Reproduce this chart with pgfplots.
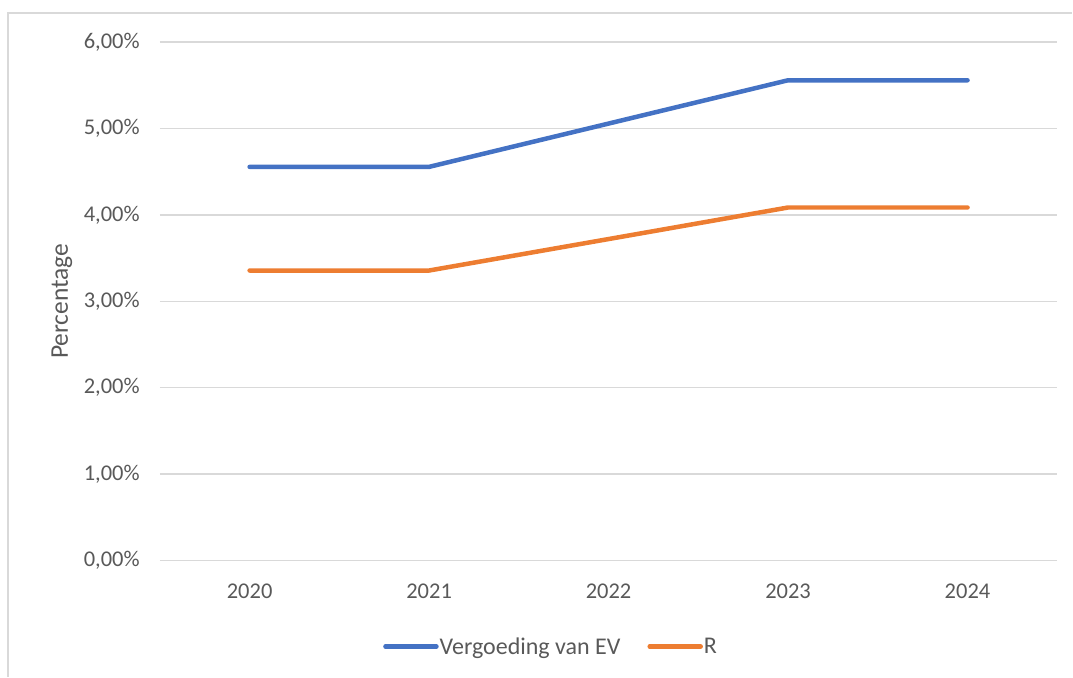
\documentclass[border=0pt]{standalone}
\usepackage{fontspec}
\setmainfont{Carlito}
\usepackage{pgfplots}
\pgfplotsset{compat=1.18}
\definecolor{evblue}{HTML}{4472C4}
\definecolor{rorange}{HTML}{ED7D31}
\definecolor{gridc}{HTML}{D9D9D9}
\definecolor{txt}{HTML}{595959}
\begin{document}
\begin{tikzpicture}
\begin{axis}[
  scale only axis,
  width=898bp, height=519bp,
  xmin=-0.5, xmax=4.5,
  ymin=0, ymax=6,
  xtick={0,1,2,3,4},
  xticklabels={2020,2021,2022,2023,2024},
  ytick={0,1,2,3,4,5,6},
  yticklabels={{0,00\%},{1,00\%},{2,00\%},{3,00\%},{4,00\%},{5,00\%},{6,00\%}},
  axis line style={draw=none},
  major tick length=0pt,
  ymajorgrids,
  grid style={gridc, line width=1.5bp},
  ticklabel style={text=txt, font=\fontsize{22.5bp}{26bp}\selectfont},
  yticklabel style={inner sep=0pt, xshift=-20bp},
  xticklabel style={inner sep=0pt, yshift=-23bp},
  ylabel={Percentage},
  ylabel style={at={(axis description cs:-0.1091,0.5)}, anchor=center, text=txt, font=\fontsize{25.5bp}{29bp}\selectfont},
  legend style={at={(axis description cs:0.4354,-0.1657)}, anchor=center, draw=none, fill=none,
    legend columns=2, font=\fontsize{24bp}{28bp}\selectfont, text=txt,
    nodes={inner sep=1bp},
    /tikz/every even column/.append style={column sep=26bp}},
  legend image code/.code={\draw[#1, line width=4.5bp, line cap=round] (0bp,0bp) -- (51bp,0bp);},
  clip=false,
]
\addplot[evblue, line width=4.5bp, line cap=round, line join=round] coordinates {
  (0,4.555) (1,4.555) (2,5.056) (3,5.557) (4,5.557)};
\addlegendentry{Vergoeding van EV}
\addplot[rorange, line width=4.5bp, line cap=round, line join=round] coordinates {
  (0,3.356) (1,3.356) (2,3.72) (3,4.085) (4,4.085)};
\addlegendentry{R}
\coordinate (O) at (rel axis cs:0,0);
\end{axis}
\draw[gridc, line width=1.5bp] ([shift={(-152bp,-116bp)}]O) -- ([shift={(-152bp,548bp)}]O) -- ([shift={(913bp,548bp)}]O);
\path[use as bounding box] ([shift={(-160bp,-116bp)}]O) rectangle ([shift={(913bp,561bp)}]O);
\end{tikzpicture}
\end{document}
